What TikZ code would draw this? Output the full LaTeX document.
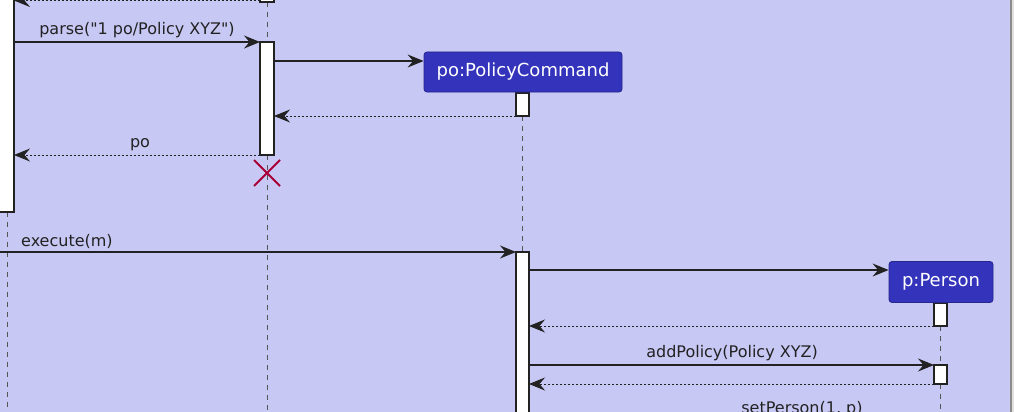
\documentclass[tikz,border=0pt]{standalone}
\usepackage{fontspec}
\setmainfont{DejaVu Sans}
\usetikzlibrary{arrows.meta}
\definecolor{bgc}{HTML}{C8C8F5}
\definecolor{partc}{HTML}{3333BB}
\definecolor{lnc}{HTML}{222222}
\definecolor{crossc}{HTML}{A80036}
\definecolor{lifec}{HTML}{555555}
\tikzset{
  lifeline/.style={draw=lifec, line width=0.9pt, dash pattern=on 5pt off 5pt},
  actbar/.style={draw=lnc, fill=white, line width=1.1pt},
  msg/.style={draw=lnc, line width=1.1pt, -{Stealth[length=16pt,width=13pt,inset=5.5pt]}},
  ret/.style={msg, line width=1pt, dash pattern=on 2pt off 2pt},
  partbox/.style={rectangle, rounded corners=3pt, fill=partc, draw=partc!75!black, line width=0.8pt,
    text=white, inner sep=0pt, font=\fontsize{18}{21}\selectfont},
  msglabel/.style={anchor=base, inner sep=0pt, text=lnc, font=\fontsize{16}{19}\selectfont},
  xmark/.style={draw=crossc, line width=1.8pt}
}
\begin{document}
\begin{tikzpicture}[x=1pt,y=-1pt]
\useasboundingbox (0,0) rectangle (1014,412);
\fill[bgc] (0,0) rectangle (1011,412);
\fill[black!12] (1011,0) rectangle (1014,412);
\draw[black!45, line width=1.6pt] (1011,0) -- (1011,412);

% lifelines
\draw[lifeline] (7,212) -- (7,412);
\draw[lifeline] (267,2) -- (267,42);
\draw[lifeline] (267,155) -- (267,412);
\draw[lifeline] (522,116) -- (522,252);
\draw[lifeline] (940,326) -- (940,365);
\draw[lifeline] (940,384) -- (940,412);

% activation bars
\draw[actbar] (-5,-5) rectangle (14,212);
\draw[actbar] (260,-5) rectangle (274,2);
\draw[actbar] (260,42) rectangle (274,155);
\draw[actbar] (516,93) rectangle (529,116);
\draw[actbar] (516,252) rectangle (529,420);
\draw[actbar] (934,303) rectangle (947,326);
\draw[actbar] (934,365) rectangle (947,384);

% participants
\node[partbox, minimum width=198pt, minimum height=40pt] (po) at (523,72) {po:PolicyCommand};
\node[partbox, minimum width=104pt, minimum height=41pt] (pp) at (941,282) {p:Person};

% coordinates for message ends
\coordinate (l0) at (14,0.5);   \coordinate (p0) at (260,0.5);
\coordinate (l1) at (14,42);    \coordinate (p1) at (260,42);
\coordinate (p2) at (274,61);
\coordinate (p3) at (274,116);  \coordinate (c3) at (516,116);
\coordinate (l4) at (14,155);   \coordinate (p4) at (260,155);
\coordinate (e0) at (-2,252);   \coordinate (c5) at (516,252);
\coordinate (c6) at (529,270);
\coordinate (c7) at (529,326);  \coordinate (q7) at (934,326);
\coordinate (c8) at (529,365);  \coordinate (q8) at (934,365);
\coordinate (c9) at (529,384);  \coordinate (q9) at (934,384);

% messages
\draw[ret] (p0) -- (l0);
\draw[msg] (l1) -- (p1);
\draw[msg] (p2) -- (po.west |- p2);
\draw[ret] (c3) -- (p3);
\draw[ret] (p4) -- (l4);
\draw[msg] (e0) -- (c5);
\draw[msg] (c6) -- (pp.west |- c6);
\draw[ret] (q7) -- (c7);
\draw[msg] (c8) -- (q8);
\draw[ret] (q9) -- (c9);

% destroy mark
\draw[xmark] (254,160) -- (280,186) (254,186) -- (280,160);

% labels
\node[msglabel] (t1) at (137,35) {parse(\textquotedbl 1 po/Policy XYZ\textquotedbl)};
\node[msglabel] (t4) at (140,147) {po};
\node[msglabel, anchor=base west] (t5) at (21,246) {execute(m)};
\node[msglabel] (t8) at (732,357) {addPolicy(Policy XYZ)};
\node[msglabel] (t10) at (802,413) {setPerson(1, p)};
\end{tikzpicture}
\end{document}
